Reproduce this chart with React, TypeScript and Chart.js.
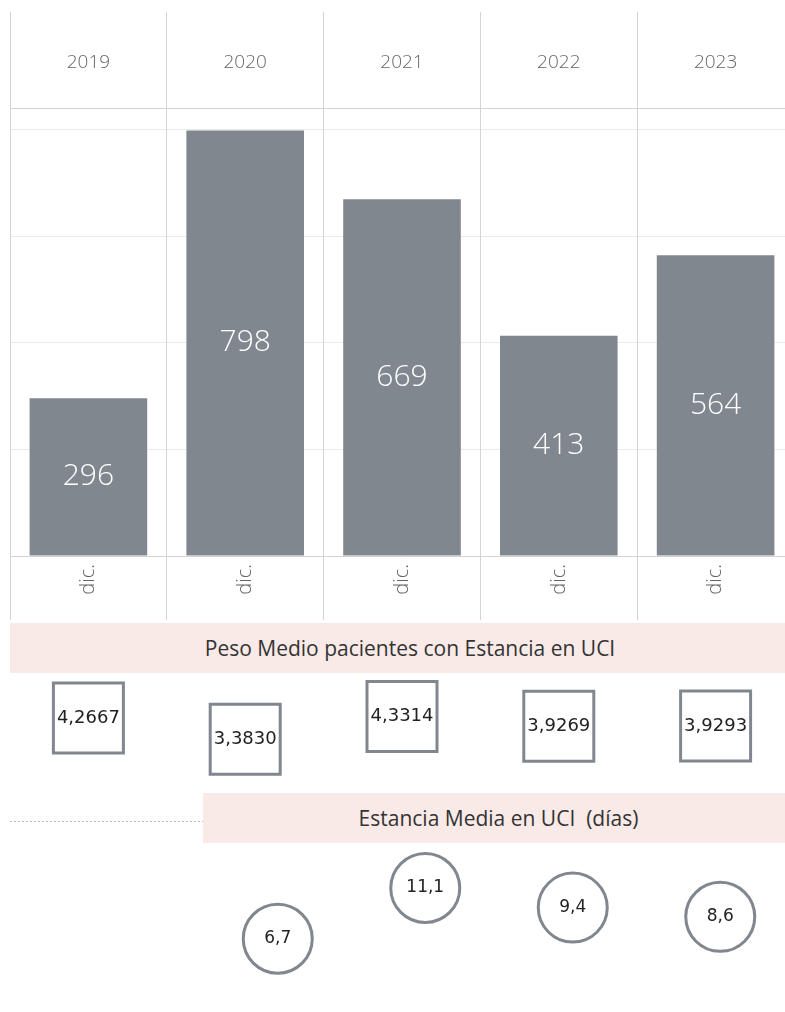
import React, { useEffect, useRef } from 'react';
import { Chart, registerables } from 'chart.js';

Chart.register(...registerables);

// ---------- data ----------
const years = ['2019', '2020', '2021', '2022', '2023'];
const monthTicks = ['dic.', 'dic.', 'dic.', 'dic.', 'dic.'];
const pacientesUCI = [296, 798, 669, 413, 564];
const pesoMedio = [4.2667, 3.383, 4.3314, 3.9269, 3.9293];
const estanciaYears = ['2020', '2021', '2022', '2023'];
const estanciaMedia = [6.7, 11.1, 9.4, 8.6];
const barGridValues = [0, 200, 400, 600, 800];
const pesoTitle = 'Peso Medio pacientes con Estancia en UCI';
const estanciaTitle = 'Estancia Media en UCI  (días)';

// ---------- styles ----------
const BAR_GRAY = '#80878f';
const LINE_GRAY = '#d4d4d4';
const AXIS_TEXT = '#666666';
const BAND_PINK = '#f9eae7';

const fmt = (v: number, d: number) => v.toFixed(d).replace('.', ',');

const barLabelPlugin = {
  id: 'barLabels',
  afterDatasetsDraw(chart: any) {
    const ctx = chart.ctx;
    const meta = chart.getDatasetMeta(0);
    ctx.save();
    ctx.font = '300 30px "Open Sans"';
    ctx.fillStyle = '#ffffff';
    ctx.textAlign = 'center';
    ctx.textBaseline = 'middle';
    meta.data.forEach((el: any, i: number) => {
      const p = el.getProps(['x', 'y', 'base'], true);
      ctx.fillText(String(chart.data.datasets[0].data[i]), p.x, (p.y + p.base) / 2);
    });
    ctx.restore();
  },
};

const makePointLabelPlugin = (decimals: number, size: number) => ({
  id: 'pointLabels',
  afterDatasetsDraw(chart: any) {
    const ctx = chart.ctx;
    const meta = chart.getDatasetMeta(0);
    ctx.save();
    ctx.font = `${size}px "DejaVu Sans"`;
    ctx.fillStyle = '#222222';
    ctx.textAlign = 'center';
    ctx.textBaseline = 'middle';
    meta.data.forEach((el: any, i: number) => {
      const p = el.getProps(['x', 'y'], true);
      ctx.fillText(fmt(chart.data.datasets[0].data[i], decimals), p.x, p.y);
    });
    ctx.restore();
  },
});

const baseOptions = {
  animation: false,
  responsive: false,
  devicePixelRatio: 1,
  plugins: { legend: { display: false }, tooltip: { enabled: false } },
};

function barConfig(): any {
  return {
    type: 'bar',
    data: {
      labels: years,
      datasets: [
        {
          data: pacientesUCI,
          backgroundColor: BAR_GRAY,
          barPercentage: 0.75,
          categoryPercentage: 1,
          xAxisID: 'x',
        },
      ],
    },
    options: {
      ...baseOptions,
      layout: { padding: 0, autoPadding: false },
      scales: {
        y: {
          position: 'left',
          min: 0,
          max: 840,
          ticks: { display: false },
          grid: { display: true, color: '#eaeaea', lineWidth: 1, drawTicks: false, drawOnChartArea: true },
          border: { display: false },
          afterBuildTicks: (s: any) => {
            s.ticks = barGridValues.map((v) => ({ value: v }));
          },
          afterFit: (s: any) => {
            s.width = 0;
          },
        },
        x: {
          position: 'bottom',
          offset: true,
          grid: { offset: true, color: LINE_GRAY, tickLength: 64, drawOnChartArea: true },
          border: { color: LINE_GRAY },
          ticks: {
            autoSkip: false,
            minRotation: 90,
            maxRotation: 90,
            padding: -56,
            color: AXIS_TEXT,
            font: { family: 'Open Sans', size: 20, weight: 300 },
            callback: (_v: any, i: number) => monthTicks[i],
          },
          afterFit: (s: any) => {
            s.height = 64;
          },
        },
        x2: {
          type: 'category',
          labels: years,
          position: 'top',
          offset: true,
          grid: { offset: true, drawOnChartArea: false, color: LINE_GRAY, tickLength: 96 },
          border: { color: LINE_GRAY },
          ticks: {
            padding: -62,
            color: AXIS_TEXT,
            font: { family: 'Open Sans', size: 19, weight: 300 },
          },
          afterFit: (s: any) => {
            s.height = 96;
          },
        },
      },
    },
    plugins: [barLabelPlugin],
  };
}

function pesoConfig(): any {
  return {
    type: 'line',
    data: {
      labels: years,
      datasets: [
        {
          data: pesoMedio,
          showLine: false,
          pointStyle: 'rect',
          pointRadius: 49.5,
          pointBorderWidth: 3,
          pointBorderColor: BAR_GRAY,
          pointBackgroundColor: '#ffffff',
          clip: false,
        },
      ],
    },
    options: {
      ...baseOptions,
      layout: { padding: { bottom: 3 }, autoPadding: false },
      scales: {
        x: { display: false, offset: true },
        y: {
          min: 0,
          max: 6.17,
          ticks: { display: false },
          grid: { color: '#bdbdbd', drawTicks: false },
          border: { display: false, dash: [2, 2] },
          afterBuildTicks: (s: any) => {
            s.ticks = [{ value: 0 }];
          },
          afterFit: (s: any) => {
            s.width = 0;
          },
        },
      },
    },
    plugins: [makePointLabelPlugin(4, 18)],
  };
}

function estanciaConfig(): any {
  return {
    type: 'line',
    data: {
      labels: estanciaYears,
      datasets: [
        {
          data: estanciaMedia,
          showLine: false,
          pointStyle: 'circle',
          pointRadius: 34.5,
          pointBorderWidth: 3,
          pointBorderColor: BAR_GRAY,
          pointBackgroundColor: '#ffffff',
          clip: false,
        },
      ],
    },
    options: {
      ...baseOptions,
      layout: { padding: 0, autoPadding: false },
      scales: {
        x: { display: false, offset: true },
        y: { display: false, min: 0, max: 15 },
      },
    },
    plugins: [makePointLabelPlugin(1, 17)],
  };
}

function ChartBox({
  make,
  left,
  top,
  width,
  height,
}: {
  make: () => any;
  left: number;
  top: number;
  width: number;
  height: number;
}) {
  const ref = useRef<HTMLCanvasElement>(null);
  useEffect(() => {
    const chart = new Chart(ref.current as HTMLCanvasElement, make());
    return () => chart.destroy();
  }, []);
  return (
    <canvas
      ref={ref}
      width={width}
      height={height}
      style={{ position: 'absolute', left, top, width, height, display: 'block' }}
    />
  );
}

function Band({ left, top, width, height, text, shift }: any) {
  return (
    <div
      style={{
        position: 'absolute',
        left,
        top,
        width,
        height,
        background: BAND_PINK,
        display: 'flex',
        alignItems: 'center',
        justifyContent: 'center',
        fontFamily: '"Open Sans", sans-serif',
        fontSize: 21,
        color: '#333333',
        whiteSpace: 'pre',
      }}
    >
      <span style={{ position: 'relative', left: shift || 0 }}>{text}</span>
    </div>
  );
}

export default function App() {
  return (
    <div
      style={{
        position: 'fixed',
        left: 0,
        top: 0,
        width: 785,
        height: 1012,
        overflow: 'hidden',
        background: '#ffffff',
      }}
    >
      <ChartBox make={barConfig} left={10} top={12} width={784} height={608} />
      <Band left={10} top={623} width={784} height={50} text={pesoTitle} shift={8} />
      <ChartBox make={pesoConfig} left={10} top={672} width={784} height={152} />
      <Band left={203} top={793} width={591} height={50} text={estanciaTitle} />
      <ChartBox make={estanciaConfig} left={204} top={843} width={590} height={173} />
    </div>
  );
}
